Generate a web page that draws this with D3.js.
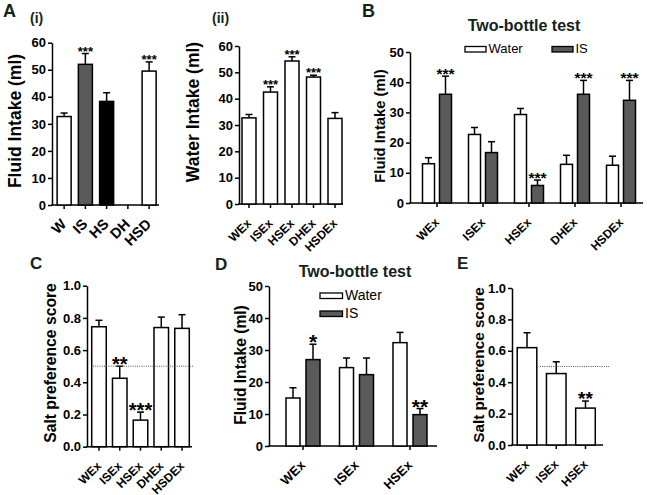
<!DOCTYPE html>
<html><head><meta charset="utf-8">
<script src="https://d3js.org/d3.v7.min.js"></script>
<style>body{margin:0;background:#fff}svg{display:block}</style>
</head><body>
<script>
// ---------- DATA ----------
const catsA1 = ["W", "IS", "HS", "DH", "HSD"];
const meanA1 = [32.7, 52.0, 38.3, null, 49.5];
const errA1  = [1.3, 4.0, 3.2, null, 3.4];
const starsA1 = ["", "***", "", "", "***"];
const yTicks60 = [0, 10, 20, 30, 40, 50, 60];

const catsEx5 = ["WEx", "ISEx", "HSEx", "DHEx", "HSDEx"];
const meanA2 = [32.7, 42.5, 54.3, 48.2, 32.5];
const errA2  = [1.3, 2.0, 1.6, 0.7, 2.2];
const starsA2 = ["", "***", "***", "***", ""];

const seriesNames = ["Water", "IS"];
const waterB = [13.0, 22.7, 29.3, 12.8, 12.5];
const waterErrB = [2.0, 2.3, 2.0, 3.0, 3.0];
const isB = [36.0, 16.7, 5.8, 36.0, 34.0];
const isErrB = [6.0, 3.6, 1.8, 4.6, 6.6];
const starsB = ["***", "", "***", "***", "***"];
const yTicks50 = [0, 10, 20, 30, 40, 50];

const prefC = [0.745, 0.425, 0.165, 0.74, 0.735];
const prefErrC = [0.04, 0.075, 0.05, 0.065, 0.085];
const starsC = ["", "**", "***", "", ""];
const yTicks1 = [0, 0.2, 0.4, 0.6, 0.8, 1.0];

const catsEx3 = ["WEx", "ISEx", "HSEx"];
const waterD = [15.0, 24.5, 32.3];
const waterErrD = [3.2, 3.0, 3.2];
const isD = [27.0, 22.3, 9.8];
const isErrD = [4.8, 5.2, 1.9];
const starsD = ["*", "", "**"];

const prefE = [0.62, 0.455, 0.235];
const prefErrE = [0.095, 0.075, 0.045];
const starsE = ["", "", "**"];
const chanceLevel = 0.5;

// ---------- DRAWING ----------
const FONT = "'Liberation Sans', Arial, Helvetica, sans-serif";
const DARK = "#5a5a5a";
const TITLEC = "#14231a";
const svg = d3.select("body").append("svg").attr("width", 647).attr("height", 495)
  .style("font-family", FONT);

function setupAxes(p) {
  const g = svg.append("g");
  const y = d3.scaleLinear().domain([0, p.yMax]).range([p.y0, p.y1]);
  const x = d3.scaleBand().domain(p.cats).range([p.r0, p.r1])
    .paddingInner(p.pad).paddingOuter(p.pad / 2);
  const ya = g.append("g").attr("transform", `translate(${p.ax},0)`)
    .call(d3.axisLeft(y).tickValues(p.ticks).tickSize(4).tickSizeOuter(0).tickPadding(2)
      .tickFormat(p.fmt || d3.format("d")));
  ya.select(".domain").attr("stroke", "#000").attr("stroke-width", 1.5);
  ya.selectAll(".tick line").attr("stroke", "#000").attr("stroke-width", 1.5);
  ya.selectAll(".tick text").attr("font-size", p.tickFs).attr("font-weight", "bold")
    .attr("fill", "#000").style("font-family", FONT);
  const xa = g.append("g").attr("transform", `translate(0,${p.y0})`)
    .call(d3.axisBottom(x).tickSize(4).tickSizeOuter(0));
  xa.select(".domain").remove();
  xa.selectAll(".tick line").attr("stroke", "#000").attr("stroke-width", 1.5);
  xa.selectAll(".tick text").attr("font-size", p.xFs).attr("font-weight", "bold")
    .attr("fill", "#000").style("font-family", FONT)
    .attr("x", 0).attr("y", 0).attr("dy", 0).attr("text-anchor", "end")
    .attr("transform", `translate(3,20) rotate(-45)`);
  g.append("line").attr("x1", p.ax - 0.75).attr("x2", p.xEnd).attr("y1", p.y0).attr("y2", p.y0)
    .attr("stroke", "#000").attr("stroke-width", 1.5);
  g.append("text").attr("transform", `translate(${p.labX},${p.labY}) rotate(-90)`)
    .attr("text-anchor", "middle").attr("font-size", p.labFs).attr("font-weight", "bold")
    .attr("fill", "#000").text(p.label);
  return { g, x, y };
}

function drawBar(g, cx, w, v, e, y, fill) {
  if (v == null) return;
  g.append("line").attr("x1", cx).attr("x2", cx).attr("y1", y(v)).attr("y2", y(v + e))
    .attr("stroke", "#000").attr("stroke-width", 1.5);
  g.append("line").attr("x1", cx - 3.5).attr("x2", cx + 3.5).attr("y1", y(v + e)).attr("y2", y(v + e))
    .attr("stroke", "#000").attr("stroke-width", 1.5);
  g.append("rect").attr("x", cx - w / 2).attr("width", w).attr("y", y(v)).attr("height", y(0) - y(v))
    .attr("fill", fill).attr("stroke", "#000").attr("stroke-width", 1.5);
}
function drawStars(g, cx, top, s, fs) {
  if (!s) return;
  g.append("text").attr("x", cx).attr("y", top - 3 + 0.39 * fs).attr("text-anchor", "middle")
    .attr("font-size", fs).attr("font-weight", "bold").attr("fill", "#000").text(s);
}
function letter(t, x, yb, fs) {
  svg.append("text").attr("x", x).attr("y", yb).attr("font-size", fs || 18).attr("font-weight", "bold")
    .attr("fill", TITLEC).text(t);
}

function singlePanel(p, vals, errs, stars, fills) {
  const { g, x, y } = setupAxes(p);
  p.cats.forEach((c, i) => {
    const cx = x(c) + x.bandwidth() / 2;
    drawBar(g, cx, x.bandwidth(), vals[i], errs[i], y, fills ? fills(c) : "#fff");
    if (vals[i] != null) drawStars(g, cx, y(vals[i] + errs[i]), stars[i], p.starFs);
  });
  if (p.dotted) {
    g.append("line").attr("x1", p.dotted[0]).attr("x2", p.dotted[1])
      .attr("y1", y(chanceLevel)).attr("y2", y(chanceLevel))
      .attr("stroke", "#555").attr("stroke-width", 1).attr("stroke-dasharray", "1,1.2");
  }
  return { g, x, y };
}

function groupedPanel(p, w, we, s, se, stars) {
  const { g, x, y } = setupAxes(p);
  const x1 = d3.scaleBand().domain(seriesNames).range([-p.half, p.half]).paddingInner(p.subPad);
  p.cats.forEach((c, i) => {
    const cx = x(c) + x.bandwidth() / 2;
    const wx = cx + x1("Water") + x1.bandwidth() / 2;
    const ix = cx + x1("IS") + x1.bandwidth() / 2;
    drawBar(g, wx, x1.bandwidth(), w[i], we[i], y, "#fff");
    drawBar(g, ix, x1.bandwidth(), s[i], se[i], y, DARK);
    drawStars(g, ix, y(s[i] + se[i]), stars[i], p.starFs);
  });
  p.legend.forEach((L, k) => {
    g.append("rect").attr("x", L[0]).attr("y", L[1]).attr("width", L[2]).attr("height", 5.5)
      .attr("fill", k === 0 ? "#fff" : DARK).attr("stroke", "#000").attr("stroke-width", 1.3);
    g.append("text").attr("x", L[0] + L[2] + 2.5).attr("y", L[1] + 6.5).attr("font-size", p.legFs)
      .attr("fill", "#000").text(seriesNames[k]);
  });
  g.append("text").attr("x", p.title[0]).attr("y", p.title[1]).attr("text-anchor", "middle")
    .attr("font-size", 16).attr("font-weight", "bold").attr("fill", TITLEC).text("Two-bottle test");
  return { g, x, y };
}

// Panel A(i)
const fillA1 = c => c === "IS" ? DARK : (c === "HS" ? "#000" : "#fff");
singlePanel({ cats: catsA1, yMax: 60, y0: 205, y1: 42.7, ax: 52, xEnd: 159, r0: 53.5, r1: 159.75, pad: 0.34,
  ticks: yTicks60, tickFs: 13, xFs: 14.5, labX: 21, labY: 121, labFs: 17.5, label: "Fluid Intake (ml)", starFs: 13 },
  meanA1, errA1, starsA1, fillA1);
letter("A", 3, 17, 18);
letter("(i)", 30, 22.5, 14);

// Panel A(ii)
singlePanel({ cats: catsEx5, yMax: 60, y0: 204, y1: 46, ax: 239, xEnd: 343, r0: 238.25, r1: 345.75, pad: 0.35,
  ticks: yTicks60, tickFs: 13, xFs: 12, labX: 199, labY: 112, labFs: 17.5, label: "Water Intake (ml)", starFs: 13 },
  meanA2, errA2, starsA2);
letter("(ii)", 212, 22.5, 14);

// Panel B
groupedPanel({ cats: catsEx5, yMax: 50, y0: 203, y1: 52, ax: 410, xEnd: 643, r0: 414, r1: 644, pad: 0.4,
  ticks: yTicks50, tickFs: 13, xFs: 12, labX: 385, labY: 126, labFs: 14.8, label: "Fluid Intake (ml)", starFs: 15.5,
  half: 14.5, subPad: 0.294, legend: [[465, 46.5, 21], [552, 46.5, 21]], legFs: 13, title: [524, 31] },
  waterB, waterErrB, isB, isErrB, starsB);
letter("B", 362, 17, 18);

// Panel C
singlePanel({ cats: catsEx5, yMax: 1, y0: 446.7, y1: 285.7, ax: 87, xEnd: 192, r0: 88.6, r1: 192.4, pad: 0.3,
  ticks: yTicks1, fmt: d3.format(".1f"), tickFs: 13, xFs: 12, labX: 56, labY: 363, labFs: 15.7,
  label: "Salt preference score", starFs: 20, dotted: [93, 194] },
  prefC, prefErrC, starsC);
letter("C", 30, 269, 17);

// Panel D
groupedPanel({ cats: catsEx3, yMax: 50, y0: 446, y1: 286, ax: 269, xEnd: 437, r0: 276.25, r1: 436.75, pad: 0.4,
  ticks: yTicks50, tickFs: 13, xFs: 13, labX: 246, labY: 365, labFs: 15.6, label: "Fluid Intake (ml)", starFs: 21,
  half: 17, subPad: 0.3, legend: [[320, 293, 22.5], [320, 311, 22.5]], legFs: 14, title: [355, 277] },
  waterD, waterErrD, isD, isErrD, starsD);
letter("D", 215, 270, 17);

// Panel E
singlePanel({ cats: catsEx3, yMax: 1, y0: 445, y1: 288, ax: 512, xEnd: 603, r0: 512.4, r1: 600.1, pad: 0.33,
  ticks: yTicks1, fmt: d3.format(".1f"), tickFs: 13, xFs: 12, labX: 484, labY: 365, labFs: 15.3,
  label: "Salt preference score", starFs: 19, dotted: [540, 609] },
  prefE, prefErrE, starsE);
letter("E", 457, 269, 17);
</script>
</body></html>
